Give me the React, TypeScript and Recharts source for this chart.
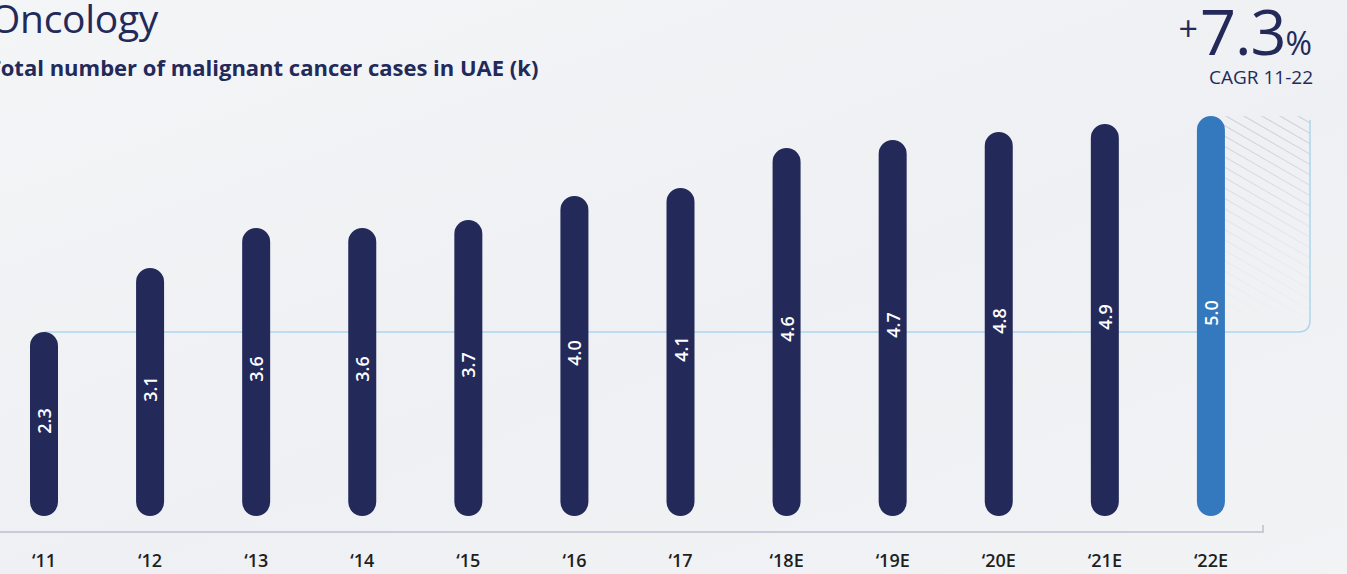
import React from 'react';
import { BarChart, Bar, XAxis, YAxis, Cell, LabelList } from 'recharts';

const YEARS = ['‘11', '‘12', '‘13', '‘14', '‘15', '‘16', '‘17', '‘18E', '‘19E', '‘20E', '‘21E', '‘22E'];
const CASES = [2.3, 3.1, 3.6, 3.6, 3.7, 4.0, 4.1, 4.6, 4.7, 4.8, 4.9, 5.0];
const CAGR = '7.3';
const CAGR_LABEL = 'CAGR 11-22';

const NAVY = '#232a5a';
const BLUE = '#3478be';
const FONT = '"Open Sans", sans-serif';

// chart geometry (page coords)
const CHART_LEFT = -9;
const CHART_W = 1356;
const CHART_H = 574;
const MARGIN = { top: 92, right: 83, bottom: 0, left: 0 };
const X_AXIS_H = 42;
const DOMAIN: [number, number] = [-0.2, 5.3];

const plotBottom = CHART_H - MARGIN.bottom - X_AXIS_H;
const plotTop = MARGIN.top;
const yOf = (v: number) =>
  plotBottom - ((v - DOMAIN[0]) / (DOMAIN[1] - DOMAIN[0])) * (plotBottom - plotTop);
const plotRight = CHART_LEFT + CHART_W - MARGIN.right;

const data = YEARS.map((year, i) => ({ year, value: CASES[i] }));

const BarLabel = (props: any) => {
  const { x, y, width, height, value } = props;
  const cx = x + width / 2;
  const cy = y + height / 2 - 3;
  return (
    <text
      x={cx}
      y={cy}
      transform={`rotate(-90 ${cx} ${cy})`}
      textAnchor="middle"
      dominantBaseline="central"
      fill="#ffffff"
      fontSize={18}
      fontWeight={600}
      fontFamily={FONT}
    >
      {Number(value).toFixed(1)}
    </text>
  );
};

export default function App() {
  const first = CASES[0];
  const last = CASES[CASES.length - 1];
  const yLow = yOf(first);
  const yHigh = yOf(last);
  const band = (plotRight - CHART_LEFT) / YEARS.length;
  const firstCx = CHART_LEFT + band / 2;
  const lastCx = CHART_LEFT + band * (YEARS.length - 0.5);
  const bracketX = 1310;
  const r = 12;

  return (
    <div
      style={{
        position: 'absolute',
        left: 0,
        top: 0,
        width: 1347,
        height: 574,
        overflow: 'hidden',
        background: 'linear-gradient(160deg, #f4f5f7 0%, #eef0f3 55%, #f2f3f5 100%)',
        fontFamily: FONT,
      }}
    >
      <svg width={1347} height={574} style={{ position: 'absolute', left: 0, top: 0 }}>
        <defs>
          <pattern id="hatch" width={9} height={9} patternUnits="userSpaceOnUse" patternTransform="rotate(30)">
            <line x1={0} y1={0} x2={9} y2={0} stroke="#b4b8c9" strokeWidth={1.2} />
          </pattern>
          <linearGradient id="fade" x1="0" y1="0" x2="0" y2="1">
            <stop offset="0" stopColor="#fff" stopOpacity={1} />
            <stop offset="0.6" stopColor="#fff" stopOpacity={0.25} />
            <stop offset="1" stopColor="#fff" stopOpacity={0} />
          </linearGradient>
          <mask id="fadeMask">
            <rect x={lastCx} y={yHigh} width={bracketX - lastCx} height={yLow - yHigh} fill="url(#fade)" />
          </mask>
        </defs>
        <rect
          x={lastCx}
          y={yHigh}
          width={bracketX - lastCx}
          height={yLow - yHigh}
          fill="url(#hatch)"
          mask="url(#fadeMask)"
        />
        <path
          d={`M ${firstCx} ${yLow} L ${bracketX - r} ${yLow} Q ${bracketX} ${yLow} ${bracketX} ${yLow - r} L ${bracketX} ${yHigh + 4}`}
          fill="none"
          stroke="#acd6f0"
          strokeWidth={1.5}
        />
        <line x1={plotRight - 1} y1={plotBottom - 7} x2={plotRight - 1} y2={plotBottom + 1} stroke="#c9ccd8" strokeWidth={2} />
      </svg>

      <div style={{ position: 'absolute', left: CHART_LEFT, top: 0 }}>
        <BarChart width={CHART_W} height={CHART_H} data={data} margin={MARGIN} barCategoryGap={0}>
          <XAxis
            dataKey="year"
            height={X_AXIS_H}
            tickLine={false}
            axisLine={{ stroke: '#c9ccd8', strokeWidth: 2 }}
            tick={{ fill: '#1f1f1f', fontSize: 18, fontWeight: 600, fontFamily: FONT }}
            tickMargin={16}
            interval={0}
          />
          <YAxis hide domain={DOMAIN} />
          <Bar dataKey="value" barSize={28} radius={14} isAnimationActive={false}>
            {data.map((d, i) => (
              <Cell key={d.year} fill={i === data.length - 1 ? BLUE : NAVY} />
            ))}
            <LabelList dataKey="value" content={BarLabel} />
          </Bar>
        </BarChart>
      </div>

      <div
        style={{
          position: 'absolute',
          left: -10,
          top: -9,
          fontSize: 39,
          color: NAVY,
          fontWeight: 400,
          letterSpacing: -0.3,
          whiteSpace: 'nowrap',
        }}
      >
        Oncology
      </div>
      <div
        style={{
          position: 'absolute',
          left: -12,
          top: 52,
          fontSize: 22,
          color: NAVY,
          fontWeight: 700,
          whiteSpace: 'nowrap',
        }}
      >
        Total number of malignant cancer cases in UAE (k)
      </div>

      <div
        style={{
          position: 'absolute',
          right: 35,
          top: 3,
          color: NAVY,
          whiteSpace: 'nowrap',
          lineHeight: '56px',
          height: 56,
          display: 'flex',
          alignItems: 'baseline',
        }}
      >
        <span style={{ fontSize: 34, position: 'relative', top: -14, marginRight: 2 }}>+</span>
        <span style={{ fontSize: 63, fontWeight: 500, letterSpacing: -1 }}>{CAGR}</span>
        <span style={{ fontSize: 32, fontWeight: 500 }}>%</span>
      </div>
      <div
        style={{
          position: 'absolute',
          right: 34,
          top: 64,
          fontSize: 19,
          color: NAVY,
          whiteSpace: 'nowrap',
        }}
      >
        {CAGR_LABEL}
      </div>
    </div>
  );
}
